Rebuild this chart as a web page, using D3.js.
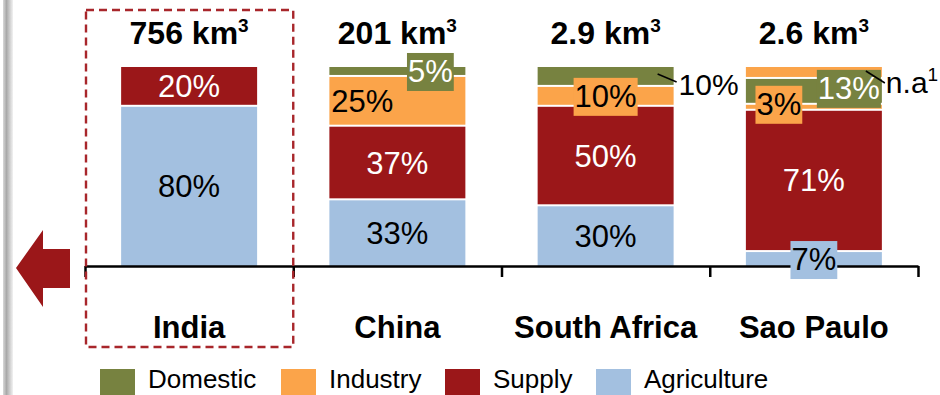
<!DOCTYPE html>
<html>
<head>
<meta charset="utf-8">
<script src="https://cdn.jsdelivr.net/npm/d3@7"></script>
<style>
  html, body { margin: 0; padding: 0; background: #fff; }
  svg { display: block; font-family: "Liberation Sans", Arial, sans-serif; }
</style>
</head>
<body>
<svg id="chart" width="940" height="395"></svg>
<script>
// ---------- data ----------
const categories = ["India", "China", "South Africa", "Sao Paulo"];
const totals = ["756", "201", "2.9", "2.6"];
const totalUnit = "km";
const totalSup = "3";
const seriesNames = ["Agriculture", "Supply", "Industry", "Domestic"];
const agriculture = [80, 33, 30, 7];
const supply = [20, 37, 50, 71];
const industry = [0, 25, 10, 3];
const domestic = [0, 5, 10, 13];
const notAvailable = [0, 0, 0, 6];
const legendOrder = ["Domestic", "Industry", "Supply", "Agriculture"];

// ---------- styles ----------
const colors = {
  Agriculture: "#A3C0E0",
  Supply: "#9B1719",
  Industry: "#FBA44A",
  Domestic: "#778240",
  NA: "#FBA44A"
};
const textColor = { Agriculture: "#000", Supply: "#fff", Industry: "#000", Domestic: "#fff" };
// label tweaks keyed "category|series"
const labelStyle = {
  "China|Industry": { dx: -35 },
  "China|Domestic": { dx: 33, box: true },
  "South Africa|Industry": { box: true },
  "South Africa|Domestic": { callout: true },
  "Sao Paulo|Industry": { dx: -35, dy: -3, box: true },
  "Sao Paulo|Domestic": { dx: 35, dy: -3, box: true },
  "Sao Paulo|Agriculture": { box: true }
};

const svg = d3.select("#chart");
const W = 940, H = 395;

// left gray frame edge
const defs = svg.append("defs");
const grad = defs.append("linearGradient").attr("id", "edge").attr("x1", 0).attr("x2", 1);
grad.append("stop").attr("offset", 0).attr("stop-color", "#d8d8d8");
grad.append("stop").attr("offset", 0.35).attr("stop-color", "#a9a9a9");
grad.append("stop").attr("offset", 1).attr("stop-color", "#f2f2f2");
svg.append("rect").attr("x", 3).attr("y", 0).attr("width", 10).attr("height", H).attr("fill", "url(#edge)");

// scales
const x = d3.scaleBand().domain(categories).range([85, 918]).paddingInner(0.347).paddingOuter(0.1735);
const xb = d3.scaleLinear().domain([0, categories.length]).range([85, 918]);
const y = d3.scaleLinear().domain([0, 100]).range([266, 67]);

// stacked data
const rows = categories.map((c, i) => ({
  category: c,
  Agriculture: agriculture[i], Supply: supply[i], Industry: industry[i], Domestic: domestic[i], NA: notAvailable[i]
}));
const stack = d3.stack().keys([...seriesNames, "NA"]);
const layers = stack(rows);

const gBars = svg.append("g");
layers.forEach(layer => {
  layer.forEach(d => {
    const v = d[1] - d[0];
    if (v <= 0) return;
    const top = y(d[1]), bottom = y(d[0]);
    gBars.append("rect")
      .attr("x", x(d.data.category))
      .attr("y", top)
      .attr("width", x.bandwidth())
      .attr("height", bottom - top - (d[0] > 0 ? 2 : 0))
      .attr("fill", colors[layer.key]);
  });
});

// axis
const axis = d3.axisBottom(xb).tickValues(d3.range(categories.length + 1)).tickFormat("").tickSize(11).tickSizeOuter(0);
const gAxis = svg.append("g").attr("transform", "translate(0,266)").call(axis);
gAxis.select(".domain").attr("stroke", "#000").attr("stroke-width", 2.5);
gAxis.selectAll(".tick line").attr("stroke", "#000").attr("stroke-width", 2.5);

// value labels
const fs = 31;
const gLab = svg.append("g");
layers.forEach(layer => {
  if (layer.key === "NA") return;
  layer.forEach(d => {
    const v = d[1] - d[0];
    if (v <= 0) return;
    const cat = d.data.category;
    const st = labelStyle[cat + "|" + layer.key] || {};
    const top = y(d[1]), bottom = y(d[0]) - (d[0] > 0 ? 2 : 0);
    const cx = x(cat) + x.bandwidth() / 2 + (st.dx || 0);
    const cy = (top + bottom) / 2 + (st.dy || 0);
    if (st.callout) {
      const xr = x(cat) + x.bandwidth();
      gLab.append("line").attr("x1", xr - 16).attr("y1", cy - 2).attr("x2", xr + 3).attr("y2", cy + 6)
        .attr("stroke", "#000").attr("stroke-width", 1.5);
      gLab.append("text").attr("x", xr + 5).attr("y", cy + 19)
        .attr("font-size", 30).attr("fill", "#000").text(v + "%");
      return;
    }
    const t = gLab.append("text")
      .attr("x", cx).attr("y", cy + fs * 0.355)
      .attr("text-anchor", "middle")
      .attr("font-size", fs)
      .attr("fill", textColor[layer.key])
      .text(v + "%");
    if (st.box) {
      const bb = t.node().getBBox();
      gLab.insert("rect", () => t.node())
        .attr("x", bb.x - 1).attr("y", bb.y - 1)
        .attr("width", bb.width + 2).attr("height", bb.height + 3)
        .attr("fill", colors[layer.key]);
    }
  });
});

// n.a callout for segments with no data
const naLayer = layers.find(l => l.key === "NA");
naLayer.forEach(d => {
  if (d[1] - d[0] <= 0) return;
  const cat = d.data.category;
  const xr = x(cat) + x.bandwidth();
  const cy = y(d[1]) + 4;
  gLab.append("line").attr("x1", xr - 16).attr("y1", cy).attr("x2", xr + 3).attr("y2", cy + 12)
    .attr("stroke", "#000").attr("stroke-width", 1.5);
  const t = gLab.append("text").attr("x", xr + 4).attr("y", cy + 22).attr("font-size", 30).attr("fill", "#000");
  t.append("tspan").text("n.a");
  t.append("tspan").attr("font-size", 19).attr("dy", -12).text("1");
});

// totals above bars
categories.forEach((c, i) => {
  const t = svg.append("text")
    .attr("x", x(c) + x.bandwidth() / 2).attr("y", 44)
    .attr("text-anchor", "middle").attr("font-size", 32).attr("font-weight", "bold").attr("fill", "#000");
  t.append("tspan").text(totals[i] + " " + totalUnit);
  t.append("tspan").attr("font-size", 19).attr("dy", -12).text(totalSup);
});

// category labels
categories.forEach(c => {
  svg.append("text")
    .attr("x", x(c) + x.bandwidth() / 2).attr("y", 338)
    .attr("text-anchor", "middle").attr("font-size", 31).attr("font-weight", "bold").attr("fill", "#000")
    .text(c);
});

// dashed highlight around India
const step = x.step();
svg.append("rect")
  .attr("x", xb(0) + 1).attr("y", 10)
  .attr("width", step - 1).attr("height", 337)
  .attr("fill", "none").attr("stroke", "#A8262B").attr("stroke-width", 2.4)
  .attr("stroke-dasharray", "8,5");

// left arrow
svg.append("polygon")
  .attr("points", "16,268 43,230 43,249 70,249 70,288 43,288 43,307")
  .attr("fill", colors.Supply);

// legend
const legendX = [100, 281, 445, 596];
legendOrder.forEach((s, i) => {
  svg.append("rect").attr("x", legendX[i]).attr("y", 369).attr("width", 35).attr("height", 30).attr("fill", colors[s]);
  svg.append("text").attr("x", legendX[i] + 48).attr("y", 388).attr("font-size", 26).attr("fill", "#000").text(s);
});
</script>
</body>
</html>
